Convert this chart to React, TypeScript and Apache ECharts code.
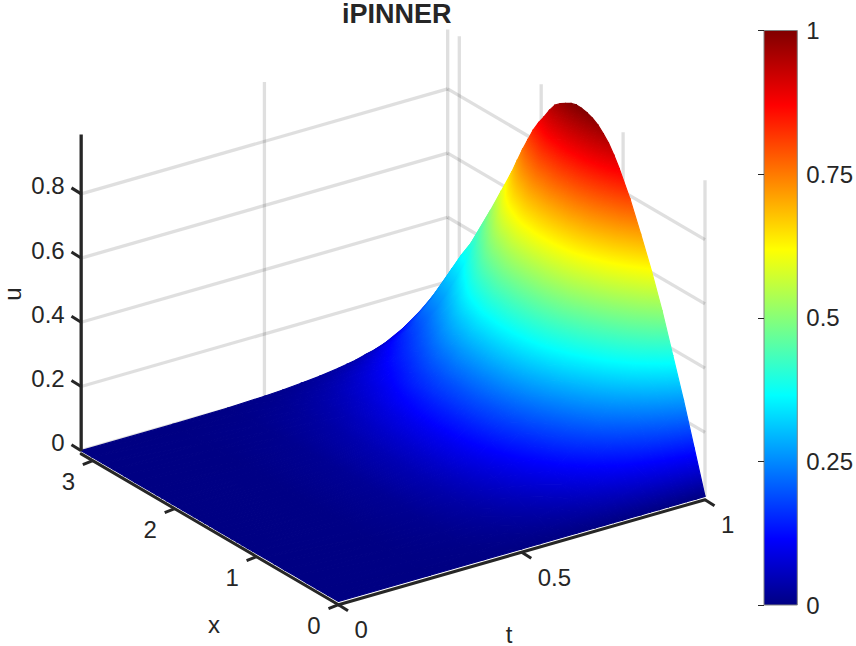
import React, { useEffect, useRef } from "react";
import * as echarts from "echarts";

const FONT = "'Liberation Sans', Arial, sans-serif";
const INK = "#262626";

// Surface samples: one list per t, columns follow xGrid.
const xGrid = [0, 0.131, 0.262, 0.393, 0.524, 0.654, 0.785, 0.916, 1.047, 1.112, 1.178, 1.243, 1.309, 1.374, 1.44, 1.506, 1.571, 1.636, 1.702, 1.767, 1.833, 1.898, 1.963, 2.029, 2.094, 2.16, 2.225, 2.29, 2.356, 2.487, 2.618, 2.749, 2.88, 3.01, 3.142];
const tGrid = [0, 0.25, 0.4, 0.5, 0.55, 0.6, 0.65, 0.7, 0.725, 0.75, 0.775, 0.8, 0.825, 0.85, 0.875, 0.9, 0.925, 0.95, 0.975, 1];
const uT000 = [0, 0, 0, 0, 0, 0, 0, 0, 0, 0, 0, 0, 0, 0, 0, 0, 0, 0, 0, 0, 0, 0, 0, 0, 0, 0, 0, 0, 0, 0, 0, 0, 0, 0, 0];
const uT025 = [0, 0, 0.001, 0.001, 0.001, 0.001, 0.001, 0.002, 0.002, 0.002, 0.002, 0.002, 0.002, 0.002, 0.002, 0.002, 0.002, 0.002, 0.002, 0.002, 0.002, 0.002, 0.002, 0.002, 0.002, 0.002, 0.002, 0.001, 0.001, 0.001, 0.001, 0.001, 0.001, 0, 0];
const uT040 = [0, 0.002, 0.004, 0.006, 0.008, 0.01, 0.011, 0.013, 0.014, 0.014, 0.015, 0.015, 0.015, 0.016, 0.016, 0.016, 0.016, 0.016, 0.016, 0.015, 0.015, 0.015, 0.014, 0.014, 0.013, 0.013, 0.012, 0.011, 0.011, 0.009, 0.008, 0.007, 0.005, 0.004, 0.002];
const uT050 = [0, 0.006, 0.011, 0.017, 0.022, 0.027, 0.031, 0.035, 0.038, 0.039, 0.041, 0.042, 0.042, 0.043, 0.043, 0.043, 0.043, 0.043, 0.043, 0.042, 0.042, 0.04, 0.039, 0.038, 0.037, 0.035, 0.033, 0.031, 0.029, 0.026, 0.022, 0.018, 0.014, 0.01, 0.006];
const uT055 = [0, 0.009, 0.018, 0.026, 0.034, 0.041, 0.048, 0.054, 0.059, 0.061, 0.063, 0.064, 0.065, 0.066, 0.067, 0.067, 0.067, 0.067, 0.066, 0.065, 0.064, 0.063, 0.061, 0.059, 0.056, 0.054, 0.051, 0.048, 0.045, 0.039, 0.034, 0.028, 0.022, 0.016, 0.009];
const uT060 = [0, 0.013, 0.026, 0.038, 0.05, 0.061, 0.07, 0.079, 0.087, 0.09, 0.093, 0.095, 0.096, 0.097, 0.098, 0.098, 0.099, 0.098, 0.097, 0.096, 0.095, 0.092, 0.089, 0.086, 0.083, 0.079, 0.075, 0.071, 0.066, 0.058, 0.05, 0.041, 0.032, 0.023, 0.014];
const uT065 = [0, 0.019, 0.037, 0.055, 0.072, 0.087, 0.101, 0.114, 0.125, 0.129, 0.133, 0.136, 0.139, 0.14, 0.141, 0.142, 0.142, 0.141, 0.14, 0.138, 0.136, 0.132, 0.128, 0.124, 0.12, 0.114, 0.108, 0.102, 0.095, 0.084, 0.072, 0.059, 0.046, 0.033, 0.019];
const uT070 = [0, 0.026, 0.052, 0.076, 0.1, 0.121, 0.14, 0.158, 0.173, 0.179, 0.185, 0.189, 0.192, 0.195, 0.196, 0.197, 0.197, 0.196, 0.194, 0.192, 0.189, 0.184, 0.178, 0.172, 0.166, 0.158, 0.15, 0.141, 0.132, 0.116, 0.1, 0.082, 0.064, 0.046, 0.027];
const uT0725 = [0, 0.031, 0.061, 0.089, 0.118, 0.142, 0.165, 0.186, 0.203, 0.211, 0.217, 0.222, 0.226, 0.229, 0.23, 0.231, 0.231, 0.23, 0.228, 0.226, 0.222, 0.216, 0.209, 0.203, 0.195, 0.186, 0.176, 0.166, 0.155, 0.136, 0.118, 0.096, 0.075, 0.054, 0.032];
const uT075 = [0, 0.036, 0.071, 0.104, 0.137, 0.166, 0.192, 0.216, 0.237, 0.246, 0.253, 0.259, 0.264, 0.267, 0.269, 0.27, 0.27, 0.269, 0.266, 0.263, 0.259, 0.252, 0.244, 0.236, 0.227, 0.216, 0.206, 0.193, 0.181, 0.159, 0.137, 0.112, 0.088, 0.063, 0.037];
const uT0775 = [0, 0.041, 0.083, 0.121, 0.159, 0.192, 0.223, 0.251, 0.275, 0.285, 0.294, 0.301, 0.306, 0.309, 0.312, 0.313, 0.313, 0.312, 0.308, 0.305, 0.301, 0.293, 0.283, 0.274, 0.264, 0.251, 0.239, 0.225, 0.21, 0.184, 0.159, 0.133, 0.105, 0.077, 0.045];
const uT080 = [0, 0.048, 0.095, 0.139, 0.183, 0.221, 0.256, 0.289, 0.317, 0.328, 0.339, 0.346, 0.352, 0.356, 0.359, 0.36, 0.361, 0.359, 0.355, 0.351, 0.346, 0.337, 0.326, 0.315, 0.304, 0.289, 0.275, 0.258, 0.242, 0.212, 0.183, 0.158, 0.125, 0.088, 0.052];
const uT0825 = [0, 0.055, 0.109, 0.16, 0.211, 0.255, 0.295, 0.333, 0.364, 0.378, 0.389, 0.398, 0.405, 0.41, 0.413, 0.414, 0.415, 0.413, 0.408, 0.404, 0.398, 0.387, 0.375, 0.363, 0.349, 0.333, 0.316, 0.297, 0.278, 0.244, 0.211, 0.185, 0.145, 0.103, 0.061];
const uT085 = [0, 0.063, 0.125, 0.183, 0.241, 0.291, 0.337, 0.38, 0.416, 0.431, 0.445, 0.455, 0.463, 0.468, 0.471, 0.473, 0.474, 0.471, 0.467, 0.462, 0.455, 0.443, 0.428, 0.415, 0.399, 0.38, 0.361, 0.34, 0.317, 0.279, 0.241, 0.221, 0.173, 0.123, 0.072];
const uT0875 = [0, 0.071, 0.142, 0.208, 0.274, 0.332, 0.384, 0.433, 0.474, 0.492, 0.507, 0.518, 0.527, 0.533, 0.537, 0.539, 0.54, 0.537, 0.532, 0.526, 0.518, 0.504, 0.488, 0.472, 0.455, 0.433, 0.411, 0.387, 0.362, 0.318, 0.274, 0.252, 0.197, 0.14, 0.082];
const uT090 = [0, 0.081, 0.162, 0.236, 0.311, 0.376, 0.435, 0.491, 0.538, 0.558, 0.575, 0.588, 0.598, 0.605, 0.61, 0.612, 0.613, 0.61, 0.603, 0.597, 0.588, 0.572, 0.554, 0.536, 0.516, 0.491, 0.467, 0.439, 0.411, 0.361, 0.311, 0.286, 0.224, 0.159, 0.093];
const uT0925 = [0, 0.092, 0.183, 0.268, 0.352, 0.426, 0.493, 0.556, 0.609, 0.631, 0.651, 0.665, 0.677, 0.685, 0.69, 0.693, 0.693, 0.69, 0.683, 0.676, 0.665, 0.648, 0.627, 0.607, 0.584, 0.556, 0.528, 0.497, 0.465, 0.408, 0.352, 0.324, 0.253, 0.18, 0.106];
const uT095 = [0, 0.103, 0.206, 0.302, 0.397, 0.48, 0.556, 0.627, 0.687, 0.712, 0.734, 0.75, 0.764, 0.773, 0.778, 0.781, 0.782, 0.778, 0.77, 0.762, 0.75, 0.73, 0.707, 0.684, 0.659, 0.627, 0.596, 0.561, 0.524, 0.461, 0.397, 0.357, 0.278, 0.199, 0.115];
const uT0975 = [0, 0.116, 0.232, 0.339, 0.446, 0.54, 0.624, 0.705, 0.772, 0.8, 0.825, 0.843, 0.858, 0.868, 0.874, 0.878, 0.879, 0.874, 0.865, 0.856, 0.843, 0.821, 0.794, 0.769, 0.74, 0.705, 0.669, 0.63, 0.589, 0.517, 0.446, 0.384, 0.299, 0.214, 0.125];
const uT100 = [0, 0.13, 0.26, 0.38, 0.5, 0.605, 0.7, 0.79, 0.865, 0.897, 0.925, 0.945, 0.962, 0.973, 0.98, 0.984, 0.985, 0.98, 0.97, 0.96, 0.945, 0.92, 0.89, 0.862, 0.83, 0.79, 0.75, 0.706, 0.66, 0.58, 0.5, 0.41, 0.32, 0.23, 0.135];
const uRows = [uT000, uT025, uT040, uT050, uT055, uT060, uT065, uT070, uT0725, uT075, uT0775, uT080, uT0825, uT085, uT0875, uT090, uT0925, uT095, uT0975, uT100];

const U_MAX = 0.985;
const uTicks = [0, 0.2, 0.4, 0.6, 0.8];
const xTicks = [0, 1, 2, 3];
const tTicks = [0, 0.5, 1];
const title = "iPINNER";

const jetPositions = [0, 0.115, 0.365, 0.619, 0.87, 1];
const jetColors = [
  [0, 0, 131],
  [0, 0, 255],
  [0, 255, 255],
  [255, 255, 0],
  [255, 0, 0],
  [128, 0, 0],
];

function jet(v: number) {
  const c = Math.max(0, Math.min(1, v));
  let i = 0;
  while (i < jetPositions.length - 2 && c > jetPositions[i + 1]) i++;
  const f = (c - jetPositions[i]) / (jetPositions[i + 1] - jetPositions[i]);
  const a = jetColors[i];
  const b = jetColors[i + 1];
  return `rgb(${Math.round(a[0] + (b[0] - a[0]) * f)},${Math.round(a[1] + (b[1] - a[1]) * f)},${Math.round(a[2] + (b[2] - a[2]) * f)})`;
}

// Fixed orthographic view of the box (x, t, u) on the page.
const project = (x: number, t: number, u: number) => [
  338.5 + 366.5 * t - 81.9 * x,
  601.5 - 105 * t - 48 * x - 321 * u,
];
const AXIS_DROP = 3.2;

function triangleFill(p: number[][], v: number[]) {
  const vMin = Math.min(v[0], v[1], v[2]);
  const vMax = Math.max(v[0], v[1], v[2]);
  const dx1 = p[1][0] - p[0][0];
  const dy1 = p[1][1] - p[0][1];
  const dx2 = p[2][0] - p[0][0];
  const dy2 = p[2][1] - p[0][1];
  const det = dx1 * dy2 - dx2 * dy1;
  if (vMax - vMin < 1e-4 || Math.abs(det) < 1e-3) return jet((vMin + vMax) / 2);
  const dv1 = v[1] - v[0];
  const dv2 = v[2] - v[0];
  const a = (dv1 * dy2 - dv2 * dy1) / det;
  const b = (dx1 * dv2 - dx2 * dv1) / det;
  const n = a * a + b * b;
  // The ramp runs past the triangle so that its stroked rim keeps the same plane of values.
  const margin = (vMax - vMin) * 0.6;
  const lo = vMin - margin;
  const hi = vMax + margin;
  const sx = p[0][0] + ((lo - v[0]) * a) / n;
  const sy = p[0][1] + ((lo - v[0]) * b) / n;
  const ex = p[0][0] + ((hi - v[0]) * a) / n;
  const ey = p[0][1] + ((hi - v[0]) * b) / n;
  const stops = [{ offset: 0, color: jet(lo) }];
  jetPositions.forEach((k) => {
    if (k > lo && k < hi) stops.push({ offset: (k - lo) / (hi - lo), color: jet(k) });
  });
  stops.push({ offset: 1, color: jet(hi) });
  return new echarts.graphic.LinearGradient(sx, sy, ex, ey, stops, true);
}

function buildTriangles() {
  const out: number[][] = [];
  for (let i = tGrid.length - 2; i >= 0; i--) {
    for (let k = xGrid.length - 2; k >= 0; k--) {
      const far = [xGrid[k + 1], tGrid[i + 1], uRows[i + 1][k + 1]];
      const a = [xGrid[k], tGrid[i + 1], uRows[i + 1][k]];
      const b = [xGrid[k + 1], tGrid[i], uRows[i][k + 1]];
      const near = [xGrid[k], tGrid[i], uRows[i][k]];
      out.push([...far, ...a, ...b]);
      out.push([...a, ...b, ...near]);
    }
  }
  return out;
}

function buildWallLines() {
  const X_END = 3.142;
  const out: number[][] = [];
  uTicks.forEach((u) => {
    out.push([X_END, 0, u, X_END, 1, u]);
    out.push([X_END, 1, u, 0, 1, u]);
  });
  out.push([X_END, 0.5, 0, X_END, 0.5, U_MAX]);
  out.push([X_END, 1, 0, X_END, 1, U_MAX]);
  xTicks.forEach((x) => out.push([x, 1, 0, x, 1, U_MAX]));
  return out;
}

function lineItem(api: any, a: number[], b: number[], stroke: string, width: number, cap = "butt") {
  const p = api.coord(a);
  const q = api.coord(b);
  return {
    type: "line",
    shape: { x1: p[0], y1: p[1], x2: q[0], y2: q[1] },
    style: { stroke, lineWidth: width, lineCap: cap, fill: "none" },
  };
}

function textItem(api: any, at: number[], text: string, align: string) {
  const p = api.coord(at);
  return {
    type: "text",
    x: p[0],
    y: p[1],
    style: {
      text,
      fill: INK,
      fontSize: 24,
      fontFamily: FONT,
      textAlign: align,
      textVerticalAlign: "middle",
    },
  };
}

export default function App() {
  const ref = useRef<HTMLDivElement>(null);
  useEffect(() => {
    const chart = echarts.init(ref.current!, undefined, { renderer: "svg" });
    const X_END = 3.142;
    chart.setOption({
      animation: false,
      backgroundColor: "#ffffff",
      title: {
        text: title,
        left: 342,
        top: 0,
        padding: 0,
        textStyle: { fontFamily: FONT, fontSize: 27, fontWeight: "bold", color: INK },
      },
      grid: [
        { left: 0, top: 0, width: 856, height: 646 },
        { left: 764, top: 30.5, width: 33.5, height: 574.5 },
      ],
      xAxis: [
        { type: "value", gridIndex: 0, min: 0, max: 856, show: false },
        { type: "value", gridIndex: 1, min: 0, max: 1, show: false },
      ],
      yAxis: [
        { type: "value", gridIndex: 0, min: 0, max: 646, inverse: true, show: false },
        {
          type: "value",
          gridIndex: 1,
          min: 0,
          max: 1,
          interval: 0.25,
          position: "right",
          z: 6,
          splitLine: { show: false },
          axisLine: { show: false },
          axisTick: { show: true, inside: true, length: 6, lineStyle: { color: INK, width: 1 } },
          axisLabel: { margin: 9, color: INK, fontFamily: FONT, fontSize: 24, align: "left", padding: [4, 0, 0, 0] },
        },
      ],
      graphic: [
        { type: "text", x: 214, y: 624, style: { text: "x", fill: INK, fontSize: 24, fontFamily: FONT, textAlign: "center", textVerticalAlign: "middle" } },
        { type: "text", x: 509, y: 634, style: { text: "t", fill: INK, fontSize: 24, fontFamily: FONT, textAlign: "center", textVerticalAlign: "middle" } },
        { type: "text", x: 12, y: 294, rotation: Math.PI / 2, style: { text: "u", fill: INK, fontSize: 24, fontFamily: FONT, textAlign: "center", textVerticalAlign: "middle" } },
      ],
      series: [
        {
          type: "custom",
          xAxisIndex: 0,
          yAxisIndex: 0,
          z: 1,
          silent: true,
          data: buildWallLines(),
          renderItem: (_: any, api: any) =>
            lineItem(
              api,
              project(api.value(0), api.value(1), api.value(2)),
              project(api.value(3), api.value(4), api.value(5)),
              "rgba(38,38,38,0.15)",
              3.3,
            ),
        },
        {
          type: "custom",
          xAxisIndex: 0,
          yAxisIndex: 0,
          z: 2,
          silent: true,
          data: buildTriangles(),
          renderItem: (_: any, api: any) => {
            const pts: number[][] = [];
            const vals: number[] = [];
            for (let j = 0; j < 3; j++) {
              const u = api.value(j * 3 + 2);
              pts.push(api.coord(project(api.value(j * 3), api.value(j * 3 + 1), u)));
              vals.push(u / U_MAX);
            }
            const fill = triangleFill(pts, vals);
            return {
              type: "polygon",
              shape: { points: pts },
              style: { fill, stroke: fill, lineWidth: 1.2, lineJoin: "round" },
            };
          },
        },
        {
          type: "custom",
          xAxisIndex: 0,
          yAxisIndex: 0,
          z: 3,
          silent: true,
          data: [[0]],
          renderItem: (_: any, api: any) => {
            const kids: any[] = [];
            const drop = (p: number[], dx = 0, dy = 0) => [p[0] + dx, p[1] + AXIS_DROP + dy];
            const o = project(0, 0, 0);
            const xEnd = project(X_END, 0, 0);
            const tEnd = project(0, 1, 0);
            kids.push(lineItem(api, drop(xEnd), drop(o), INK, 3, "round"));
            kids.push(lineItem(api, drop(o), drop(tEnd), INK, 3, "round"));
            kids.push(lineItem(api, project(X_END, 0, 0), project(X_END, 0, U_MAX), INK, 3.3));
            uTicks.forEach((u) => {
              const p = project(X_END, 0, u);
              kids.push(lineItem(api, p, [p[0] - 9.7, p[1] - 6], INK, 3));
              kids.push(textItem(api, [p[0] - 16.5, p[1] - 8], String(u), "right"));
            });
            xTicks.forEach((x) => {
              const p = drop(project(x, 0, 0));
              kids.push(lineItem(api, p, [p[0] - 10, p[1] + 4], INK, 3));
              kids.push(textItem(api, [p[0] - 24.5, p[1] + 21], String(x), "center"));
            });
            tTicks.forEach((t) => {
              const p = drop(project(0, t, 0));
              kids.push(lineItem(api, p, [p[0] + 9.5, p[1] + 6], INK, 3));
              kids.push(textItem(api, [p[0] + 16, p[1] + 25], String(t), "left"));
            });
            return { type: "group", children: kids };
          },
        },
        {
          type: "custom",
          xAxisIndex: 1,
          yAxisIndex: 1,
          z: 2,
          silent: true,
          data: [[0, 0, 1, 1]],
          renderItem: (_: any, api: any) => {
            const a = api.coord([api.value(0), api.value(1)]);
            const b = api.coord([api.value(2), api.value(3)]);
            const stops = jetPositions.map((k) => ({ offset: k, color: jet(k) }));
            return {
              type: "rect",
              shape: { x: a[0], y: b[1], width: b[0] - a[0], height: a[1] - b[1] },
              style: {
                fill: new echarts.graphic.LinearGradient(0, 1, 0, 0, stops),
                stroke: "#808080",
                lineWidth: 1,
              },
            };
          },
        },
      ],
    });
    return () => chart.dispose();
  }, []);
  return <div ref={ref} style={{ position: "absolute", left: 0, top: 0, width: 856, height: 646 }} />;
}
